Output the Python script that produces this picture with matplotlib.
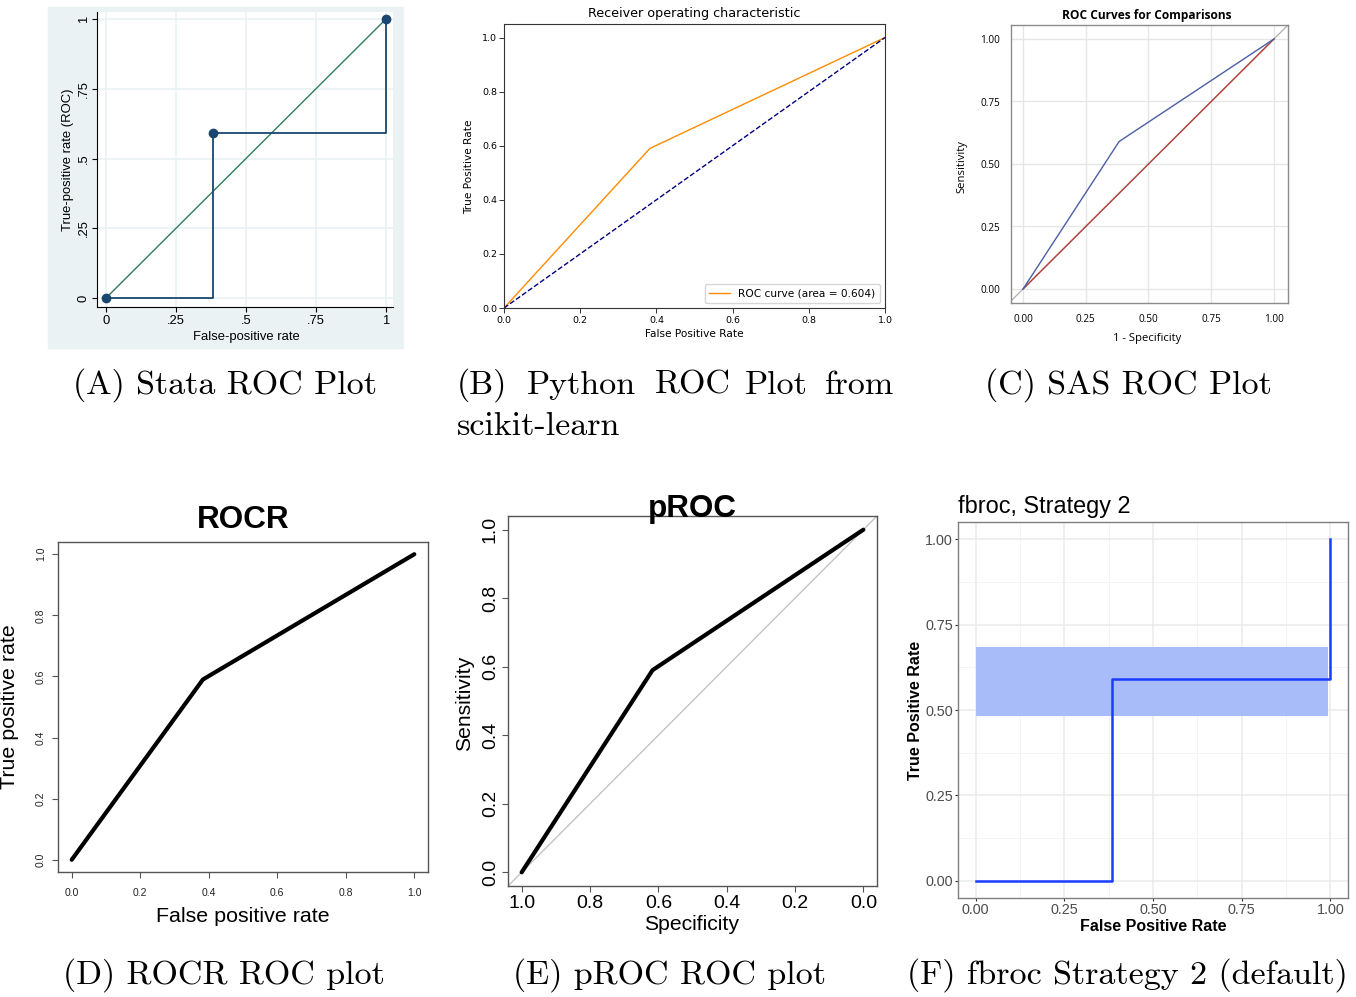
import matplotlib
matplotlib.use("Agg")
import matplotlib.pyplot as plt
from matplotlib.patches import Rectangle

W, H = 1356, 997
fig = plt.figure(figsize=(W / 100, H / 100), dpi=100)
fig.patch.set_facecolor("white")

# ---------------- data ----------------
fpr = [0.0, 0.383, 1.0]          # false positive rate at each threshold
tpr = [0.0, 0.59, 1.0]           # true positive rate at each threshold
auc = 0.604
chance = [0.0, 1.0]              # chance (diagonal) line
ci_x = [0.0, 0.994]              # fbroc confidence band extent (FPR)
ci_lo = 0.483
ci_hi = 0.683
specificity = [1 - v for v in fpr]

stata_ticks = [0, 0.25, 0.5, 0.75, 1]
stata_labels = ["0", ".25", ".5", ".75", "1"]
sk_ticks = [0.0, 0.2, 0.4, 0.6, 0.8, 1.0]
sk_labels = ["0.0", "0.2", "0.4", "0.6", "0.8", "1.0"]
quarter_ticks = [0, 0.25, 0.5, 0.75, 1]
quarter_labels = ["0.00", "0.25", "0.50", "0.75", "1.00"]
r_ticks = [0.0, 0.2, 0.4, 0.6, 0.8, 1.0]
r_labels = ["0.0", "0.2", "0.4", "0.6", "0.8", "1.0"]

ARIAL = ["Liberation Sans", "DejaVu Sans"]
CAPTION = "cmr10"


def rect(l, t, r, b):
    return [l / W, 1 - b / H, (r - l) / W, (b - t) / H]


def axfrac(box, x, y):
    l, t, r, b = box
    return (x - l) / (r - l), (b - y) / (b - t)


def put_xlabel(ax, box, text, cx, cy, **kw):
    ax.set_xlabel(text, **kw)
    ax.xaxis.label.set_va("center")
    ax.xaxis.set_label_coords(*axfrac(box, cx, cy))


def put_ylabel(ax, box, text, cx, cy, **kw):
    ax.set_ylabel(text, **kw)
    ax.yaxis.label.set_va("center")
    ax.yaxis.label.set_ha("center")
    ax.yaxis.set_label_coords(*axfrac(box, cx, cy))


def put_title(ax, box, text, cx, cy, ha="center", **kw):
    fx, fy = axfrac(box, cx, cy)
    ax.set_title(text, x=fx, y=fy, va="center", ha=ha, pad=0, **kw)


# ================= (A) Stata =================
fig.add_artist(Rectangle((48 / W, 1 - 348 / H), (403 - 48) / W, (348 - 7) / H,
                         transform=fig.transFigure, color="#eaf2f3", zorder=0))
boxA = (97, 12, 393, 307)
axA = fig.add_axes(rect(*boxA))
axA.set_facecolor("white")
axA.set_xlim(-0.032, 1.025)
axA.set_ylim(-0.032, 1.025)
for v in stata_ticks:
    axA.axhline(v, color="#eaf2f3", lw=1.2, zorder=0)
    axA.axvline(v, color="#eaf2f3", lw=1.2, zorder=0)
axA.plot(chance, chance, color="#2e7d5b", lw=1.0, zorder=2)
axA.step(fpr, tpr, where="post", color="#1a476f", lw=1.3, zorder=3)
axA.plot(fpr, tpr, "o", color="#1a476f", ms=6, zorder=4)
for s in ["top", "right"]:
    axA.spines[s].set_visible(False)
for s in ["left", "bottom"]:
    axA.spines[s].set_color("black")
    axA.spines[s].set_linewidth(0.8)
axA.set_xticks(stata_ticks)
axA.set_xticklabels(stata_labels, fontsize=9.4, family=ARIAL)
axA.set_yticks(stata_ticks)
axA.set_yticklabels(stata_labels, fontsize=9.4, family=ARIAL, rotation=90, va="center")
axA.tick_params(length=3.6, width=0.8, color="black")
axA.tick_params(axis="x", pad=2)
axA.tick_params(axis="y", pad=1.5)
put_xlabel(axA, boxA, "False-positive rate", 246, 337, fontsize=9.4, family=ARIAL)
put_ylabel(axA, boxA, "True-positive rate (ROC)", 68, 160, fontsize=9.4, family=ARIAL)

# ================= (B) scikit-learn =================
boxB = (504, 24, 885, 308)
axB = fig.add_axes(rect(*boxB))
axB.set_xlim(0.0, 1.0)
axB.set_ylim(0.0, 1.05)
axB.plot(fpr, tpr, color="darkorange", lw=1.0,
         label="ROC curve (area = %0.3f)" % auc)
axB.plot(chance, chance, color="navy", lw=1.0, linestyle="--")
axB.set_xticks(sk_ticks)
axB.set_xticklabels(sk_labels, fontsize=6.8, family="DejaVu Sans")
axB.set_yticks(sk_ticks)
axB.set_yticklabels(sk_labels, fontsize=6.8, family="DejaVu Sans")
axB.tick_params(length=3.5, width=0.7, color="#333333")
axB.tick_params(axis="x", pad=2.2)
axB.tick_params(axis="y", pad=1.5)
for s in axB.spines.values():
    s.set_color("#333333")
    s.set_linewidth(0.8)
put_title(axB, boxB, "Receiver operating characteristic", 694, 14, fontsize=9.2,
          family="DejaVu Sans")
put_xlabel(axB, boxB, "False Positive Rate", 694, 334, fontsize=7.6, family="DejaVu Sans")
put_ylabel(axB, boxB, "True Positive Rate", 469, 167, fontsize=7.6, family="DejaVu Sans")
axB.legend(loc="lower right", prop={"family": "DejaVu Sans", "size": 7.6},
           handlelength=2.0, borderpad=0.4, framealpha=0.8)

# ================= (C) SAS =================
boxC = (1011, 25, 1288, 303)
axC = fig.add_axes(rect(*boxC))
axC.set_xlim(-0.048, 1.056)
axC.set_ylim(-0.056, 1.056)
for v in quarter_ticks:
    axC.axhline(v, color="#e6e6e6", lw=1.0, zorder=0)
    axC.axvline(v, color="#e6e6e6", lw=1.0, zorder=0)
axC.plot([-0.06, 1.06], [-0.06, 1.06], color="#b0b0b0", lw=0.9, zorder=1)
axC.plot(chance, chance, color="#b5413b", lw=1.0, zorder=2)
axC.plot(fpr, tpr, color="#4b5ea6", lw=1.0, zorder=3)
axC.set_xticks(quarter_ticks)
axC.set_xticklabels(quarter_labels, fontsize=7.2, family="Open Sans")
axC.set_yticks(quarter_ticks)
axC.set_yticklabels(quarter_labels, fontsize=7.2, family="Open Sans")
axC.tick_params(length=0, pad=8)
for s in axC.spines.values():
    s.set_color("#8c8c8c")
    s.set_linewidth(1.0)
put_title(axC, boxC, "ROC Curves for Comparisons", 1147, 15, fontsize=8.6,
          family="Open Sans", fontweight="bold")
put_xlabel(axC, boxC, "1 - Specificity", 1147, 338, fontsize=8.1, family="Open Sans")
put_ylabel(axC, boxC, "Sensitivity", 962, 167, fontsize=8.1, family="Open Sans")

# ================= (D) ROCR =================
boxD = (58, 542, 428, 872)
axD = fig.add_axes(rect(*boxD))
axD.set_xlim(-0.04, 1.04)
axD.set_ylim(-0.04, 1.04)
axD.plot(fpr, tpr, color="black", lw=3.0, solid_capstyle="round",
         solid_joinstyle="round")
for s in axD.spines.values():
    s.set_color("#555555")
    s.set_linewidth(1.0)
axD.set_xticks(r_ticks)
axD.set_xticklabels(r_labels, fontsize=7.5, family=ARIAL, color="#222222")
axD.set_yticks(r_ticks)
axD.set_yticklabels(r_labels, fontsize=7.5, family=ARIAL, color="#222222",
                    rotation=90, va="center")
axD.tick_params(length=4.3, width=0.8, color="#555555")
axD.tick_params(axis="x", pad=7)
axD.tick_params(axis="y", pad=4.3)
put_title(axD, boxD, "ROCR", 243, 520, fontsize=22.7, family=ARIAL, fontweight="bold")
put_xlabel(axD, boxD, "False positive rate", 243, 916, fontsize=15.4, family=ARIAL)
put_ylabel(axD, boxD, "True positive rate", 10, 707, fontsize=15.4, family=ARIAL)

# ================= (E) pROC =================
boxE = (508, 516, 877, 886)
axE = fig.add_axes(rect(*boxE))
axE.set_xlim(1.04, -0.04)
axE.set_ylim(-0.04, 1.04)
axE.plot([1.1, -0.1], [-0.1, 1.1], color="#bfbfbf", lw=0.9, zorder=1)
axE.plot(specificity, tpr, color="black", lw=3.0, solid_capstyle="round",
         solid_joinstyle="round", zorder=2)
for s in axE.spines.values():
    s.set_color("#555555")
    s.set_linewidth(1.0)
axE.set_xticks(r_ticks)
axE.set_xticklabels(r_labels, fontsize=14, family=ARIAL)
axE.set_yticks(r_ticks)
axE.set_yticklabels(r_labels, fontsize=14, family=ARIAL, rotation=90, va="center")
axE.tick_params(length=4.3, width=0.8, color="#555555", pad=2.2)
put_title(axE, boxE, "pROC", 692, 509, fontsize=22.6, family=ARIAL, fontweight="bold")
put_xlabel(axE, boxE, "Specificity", 692, 924, fontsize=15.2, family=ARIAL)
put_ylabel(axE, boxE, "Sensitivity", 465, 703, fontsize=15.2, family=ARIAL)

# ================= (F) fbroc =================
boxF = (958, 522, 1348, 898)
axF = fig.add_axes(rect(*boxF))
axF.set_xlim(-0.05, 1.05)
axF.set_ylim(-0.05, 1.05)
for v in [0.125, 0.375, 0.625, 0.875]:
    axF.axhline(v, color="#f3f3f3", lw=0.6, zorder=0)
    axF.axvline(v, color="#f3f3f3", lw=0.6, zorder=0)
for v in quarter_ticks:
    axF.axhline(v, color="#ebebeb", lw=1.1, zorder=0)
    axF.axvline(v, color="#ebebeb", lw=1.1, zorder=0)
axF.fill_between(ci_x, [ci_lo, ci_lo], [ci_hi, ci_hi], color="#a9bcfa", lw=0, zorder=1)
axF.step(fpr, tpr, where="post", color="#1a3cff", lw=1.8, zorder=2)
for s in axF.spines.values():
    s.set_color("#7f7f7f")
    s.set_linewidth(1.0)
axF.set_xticks(quarter_ticks)
axF.set_xticklabels(quarter_labels, fontsize=10.4, family=ARIAL, color="#4d4d4d")
axF.set_yticks(quarter_ticks)
axF.set_yticklabels(quarter_labels, fontsize=10.4, family=ARIAL, color="#4d4d4d")
axF.tick_params(length=2.2, width=0.8, color="#333333", pad=1.5)
put_title(axF, boxF, "fbroc, Strategy 2", 958, 506, ha="left", fontsize=16.9, family=ARIAL)
put_xlabel(axF, boxF, "False Positive Rate", 1153, 926, fontsize=11.5, family=ARIAL,
           fontweight="bold")
put_ylabel(axF, boxF, "True Positive Rate", 915, 710, fontsize=11.5, family=ARIAL,
           fontweight="bold")

# ================= captions =================
def cap(x, y, s, ha="left"):
    fig.text(x / W, 1 - y / H, s, ha=ha, va="baseline", fontsize=24.5, family=CAPTION)

cap(73, 394, "(A) Stata ROC Plot")
for x, w in zip([457, 527, 655, 745, 825], ["(B)", "Python", "ROC", "Plot", "from"]):
    cap(x, 394, w)
cap(457, 435, "scikit-learn")
cap(985, 394, "(C) SAS ROC Plot")
cap(63, 984, "(D) ROCR ROC plot")
cap(513, 984, "(E) pROC ROC plot")
cap(907, 984, "(F) fbroc Strategy 2 (default)")

fig.savefig("out.png", dpi=100)
